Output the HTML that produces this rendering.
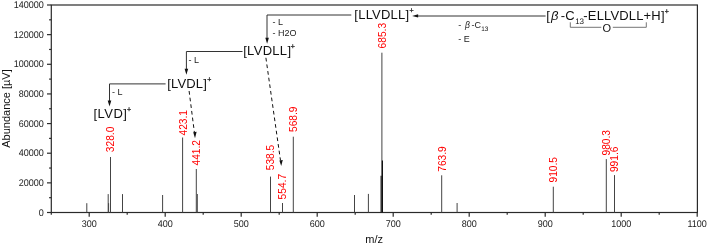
<!DOCTYPE html>
<html><head><meta charset="utf-8"><style>
html,body{margin:0;padding:0;background:#fff;}
svg{display:block;will-change:transform;}
text{font-family:"Liberation Sans",sans-serif;fill:#1a1a1a;}
.tk{font-size:9px;fill:#222;}
.ti{font-size:11px;fill:#111;}
.rd{font-size:10.2px;fill:#f00;}
.big{font-size:13px;fill:#111;}
.sp{fill:#111;stroke:#111;stroke-width:0.25px;}
.sm{font-size:9px;fill:#222;}
.o{font-size:11px;fill:#111;}
</style></head><body>
<svg width="708" height="245" viewBox="0 0 708 245">
<rect x="51.3" y="5.0" width="646.10" height="207.50" fill="none" stroke="#2a2a2a" stroke-width="1.2"/>
<line x1="47.00" y1="212.50" x2="51.3" y2="212.50" stroke="#2a2a2a" stroke-width="1.2"/>
<text transform="translate(43.7 215.60) scale(0.93 1)" text-anchor="end" class="tk" style="font-size:9.7px;text-rendering:geometricPrecision">0</text>
<line x1="49.10" y1="197.68" x2="51.3" y2="197.68" stroke="#2a2a2a" stroke-width="1.2"/>
<line x1="47.00" y1="182.86" x2="51.3" y2="182.86" stroke="#2a2a2a" stroke-width="1.2"/>
<text transform="translate(43.7 185.96) scale(0.93 1)" text-anchor="end" class="tk" style="font-size:9.7px;text-rendering:geometricPrecision">20000</text>
<line x1="49.10" y1="168.04" x2="51.3" y2="168.04" stroke="#2a2a2a" stroke-width="1.2"/>
<line x1="47.00" y1="153.21" x2="51.3" y2="153.21" stroke="#2a2a2a" stroke-width="1.2"/>
<text transform="translate(43.7 156.31) scale(0.93 1)" text-anchor="end" class="tk" style="font-size:9.7px;text-rendering:geometricPrecision">40000</text>
<line x1="49.10" y1="138.39" x2="51.3" y2="138.39" stroke="#2a2a2a" stroke-width="1.2"/>
<line x1="47.00" y1="123.57" x2="51.3" y2="123.57" stroke="#2a2a2a" stroke-width="1.2"/>
<text transform="translate(43.7 126.67) scale(0.93 1)" text-anchor="end" class="tk" style="font-size:9.7px;text-rendering:geometricPrecision">60000</text>
<line x1="49.10" y1="108.75" x2="51.3" y2="108.75" stroke="#2a2a2a" stroke-width="1.2"/>
<line x1="47.00" y1="93.93" x2="51.3" y2="93.93" stroke="#2a2a2a" stroke-width="1.2"/>
<text transform="translate(43.7 97.03) scale(0.93 1)" text-anchor="end" class="tk" style="font-size:9.7px;text-rendering:geometricPrecision">80000</text>
<line x1="49.10" y1="79.11" x2="51.3" y2="79.11" stroke="#2a2a2a" stroke-width="1.2"/>
<line x1="47.00" y1="64.29" x2="51.3" y2="64.29" stroke="#2a2a2a" stroke-width="1.2"/>
<text transform="translate(43.7 67.39) scale(0.93 1)" text-anchor="end" class="tk" style="font-size:9.7px;text-rendering:geometricPrecision">100000</text>
<line x1="49.10" y1="49.46" x2="51.3" y2="49.46" stroke="#2a2a2a" stroke-width="1.2"/>
<line x1="47.00" y1="34.64" x2="51.3" y2="34.64" stroke="#2a2a2a" stroke-width="1.2"/>
<text transform="translate(43.7 37.74) scale(0.93 1)" text-anchor="end" class="tk" style="font-size:9.7px;text-rendering:geometricPrecision">120000</text>
<line x1="49.10" y1="19.82" x2="51.3" y2="19.82" stroke="#2a2a2a" stroke-width="1.2"/>
<line x1="47.00" y1="5.00" x2="51.3" y2="5.00" stroke="#2a2a2a" stroke-width="1.2"/>
<text transform="translate(43.7 8.10) scale(0.93 1)" text-anchor="end" class="tk" style="font-size:9.7px;text-rendering:geometricPrecision">140000</text>
<line x1="51.3" y1="212.5" x2="51.3" y2="214.70" stroke="#2a2a2a" stroke-width="1.2"/>
<line x1="89.20" y1="212.5" x2="89.20" y2="216.70" stroke="#2a2a2a" stroke-width="1.2"/>
<text transform="translate(89.20 227.2) scale(0.93 1)" text-anchor="middle" class="tk" style="font-size:9.7px;text-rendering:geometricPrecision">300</text>
<line x1="127.20" y1="212.5" x2="127.20" y2="214.70" stroke="#2a2a2a" stroke-width="1.2"/>
<line x1="165.20" y1="212.5" x2="165.20" y2="216.70" stroke="#2a2a2a" stroke-width="1.2"/>
<text transform="translate(165.20 227.2) scale(0.93 1)" text-anchor="middle" class="tk" style="font-size:9.7px;text-rendering:geometricPrecision">400</text>
<line x1="203.20" y1="212.5" x2="203.20" y2="214.70" stroke="#2a2a2a" stroke-width="1.2"/>
<line x1="241.20" y1="212.5" x2="241.20" y2="216.70" stroke="#2a2a2a" stroke-width="1.2"/>
<text transform="translate(241.20 227.2) scale(0.93 1)" text-anchor="middle" class="tk" style="font-size:9.7px;text-rendering:geometricPrecision">500</text>
<line x1="279.20" y1="212.5" x2="279.20" y2="214.70" stroke="#2a2a2a" stroke-width="1.2"/>
<line x1="317.20" y1="212.5" x2="317.20" y2="216.70" stroke="#2a2a2a" stroke-width="1.2"/>
<text transform="translate(317.20 227.2) scale(0.93 1)" text-anchor="middle" class="tk" style="font-size:9.7px;text-rendering:geometricPrecision">600</text>
<line x1="355.20" y1="212.5" x2="355.20" y2="214.70" stroke="#2a2a2a" stroke-width="1.2"/>
<line x1="393.20" y1="212.5" x2="393.20" y2="216.70" stroke="#2a2a2a" stroke-width="1.2"/>
<text transform="translate(393.20 227.2) scale(0.93 1)" text-anchor="middle" class="tk" style="font-size:9.7px;text-rendering:geometricPrecision">700</text>
<line x1="431.20" y1="212.5" x2="431.20" y2="214.70" stroke="#2a2a2a" stroke-width="1.2"/>
<line x1="469.20" y1="212.5" x2="469.20" y2="216.70" stroke="#2a2a2a" stroke-width="1.2"/>
<text transform="translate(469.20 227.2) scale(0.93 1)" text-anchor="middle" class="tk" style="font-size:9.7px;text-rendering:geometricPrecision">800</text>
<line x1="507.20" y1="212.5" x2="507.20" y2="214.70" stroke="#2a2a2a" stroke-width="1.2"/>
<line x1="545.20" y1="212.5" x2="545.20" y2="216.70" stroke="#2a2a2a" stroke-width="1.2"/>
<text transform="translate(545.20 227.2) scale(0.93 1)" text-anchor="middle" class="tk" style="font-size:9.7px;text-rendering:geometricPrecision">900</text>
<line x1="583.20" y1="212.5" x2="583.20" y2="214.70" stroke="#2a2a2a" stroke-width="1.2"/>
<line x1="621.20" y1="212.5" x2="621.20" y2="216.70" stroke="#2a2a2a" stroke-width="1.2"/>
<text transform="translate(621.20 227.2) scale(0.93 1)" text-anchor="middle" class="tk" style="font-size:9.7px;text-rendering:geometricPrecision">1000</text>
<line x1="659.20" y1="212.5" x2="659.20" y2="214.70" stroke="#2a2a2a" stroke-width="1.2"/>
<line x1="697.20" y1="212.5" x2="697.20" y2="216.70" stroke="#2a2a2a" stroke-width="1.2"/>
<text transform="translate(697.20 227.2) scale(0.93 1)" text-anchor="middle" class="tk" style="font-size:9.7px;text-rendering:geometricPrecision">1100</text>
<text x="374.2" y="243.2" text-anchor="middle" class="ti">m/z</text>
<text transform="translate(9.7 108.5) rotate(-90)" text-anchor="middle" class="ti">Abundance [µV]</text>
<line x1="86.8" y1="212.5" x2="86.8" y2="203.2" stroke="#444" stroke-width="1"/>
<line x1="108.2" y1="212.5" x2="108.2" y2="194.1" stroke="#444" stroke-width="1"/>
<line x1="108.6" y1="212.5" x2="108.6" y2="203.2" stroke="#444" stroke-width="1"/>
<line x1="110.5" y1="212.5" x2="110.5" y2="157" stroke="#444" stroke-width="1"/>
<line x1="122.5" y1="212.5" x2="122.5" y2="194.1" stroke="#444" stroke-width="1"/>
<line x1="162.6" y1="212.5" x2="162.6" y2="195" stroke="#444" stroke-width="1"/>
<line x1="182.6" y1="212.5" x2="182.6" y2="137.5" stroke="#444" stroke-width="1"/>
<line x1="196.3" y1="212.5" x2="196.3" y2="169" stroke="#444" stroke-width="1"/>
<line x1="197.3" y1="212.5" x2="197.3" y2="194" stroke="#444" stroke-width="1"/>
<line x1="270.5" y1="212.5" x2="270.5" y2="176.6" stroke="#444" stroke-width="1"/>
<line x1="282.5" y1="212.5" x2="282.5" y2="203" stroke="#444" stroke-width="1"/>
<line x1="293.3" y1="212.5" x2="293.3" y2="136.7" stroke="#444" stroke-width="1"/>
<line x1="354.5" y1="212.5" x2="354.5" y2="195" stroke="#444" stroke-width="1"/>
<line x1="368.4" y1="212.5" x2="368.4" y2="193.9" stroke="#444" stroke-width="1"/>
<line x1="381.9" y1="212.5" x2="381.9" y2="52.7" stroke="#444" stroke-width="1"/>
<line x1="441.7" y1="212.5" x2="441.7" y2="175.3" stroke="#444" stroke-width="1"/>
<line x1="457.1" y1="212.5" x2="457.1" y2="203" stroke="#444" stroke-width="1"/>
<line x1="553.3" y1="212.5" x2="553.3" y2="186.7" stroke="#444" stroke-width="1"/>
<line x1="606.3" y1="212.5" x2="606.3" y2="159.1" stroke="#444" stroke-width="1"/>
<line x1="614.5" y1="212.5" x2="614.5" y2="175.1" stroke="#444" stroke-width="1"/>
<line x1="382.4" y1="212.5" x2="382.4" y2="160.4" stroke="#111" stroke-width="1.2"/>
<line x1="381.1" y1="212.5" x2="381.1" y2="175.8" stroke="#111" stroke-width="1.1"/>
<text transform="translate(114.12 152.19) rotate(-90)" class="rd">328.0</text>
<text transform="translate(186.52 135.53) rotate(-90)" class="rd">423.1</text>
<text transform="translate(200.02 165.53) rotate(-90)" class="rd">441.2</text>
<text transform="translate(274.42 170.21) rotate(-90)" class="rd">538.5</text>
<text transform="translate(285.52 199.41) rotate(-90)" class="rd">554.7</text>
<text transform="translate(297.12 132.01) rotate(-90)" class="rd">568.9</text>
<text transform="translate(386.12 48.42) rotate(-90)" class="rd">685.3</text>
<text transform="translate(445.82 171.72) rotate(-90)" class="rd">763.9</text>
<text transform="translate(557.02 182.48) rotate(-90)" class="rd">910.5</text>
<text transform="translate(609.52 155.48) rotate(-90)" class="rd">980.3</text>
<text transform="translate(617.92 172.08) rotate(-90)" class="rd">991.6</text>
<text x="546.17" y="19.5" class="big">[</text>
<text x="551.00" y="19.5" class="big" font-style="italic">β</text>
<text x="560.82" y="19.5" class="big">-C</text>
<text x="575.15" y="24.3" class="big" style="font-size:8px;text-rendering:geometricPrecision">13</text>
<text x="583.32" y="19.5" class="big" textLength="81.20" lengthAdjust="spacing">-ELLVDLL+H]</text>
<text x="666.8" y="13.83" text-anchor="middle" font-size="7" class="sp">+</text>
<path d="M570.3 22.3 V27.3 H601.3 M612.8 27.3 H646.3 V22.3" fill="none" stroke="#666" stroke-width="0.9"/>
<text x="602.5" y="32.3" class="o">O</text>
<line x1="545.6" y1="16.0" x2="417" y2="16.0" stroke="#333" stroke-width="1"/>
<path d="M412.1 15.9 L418.1 14.3 L418.1 17.5 Z" fill="#111"/>
<text x="458.3" y="28.3" class="sm">-</text>
<text x="465.0" y="28.3" class="sm" font-style="italic" style="font-size:8.6px">β</text>
<text x="471.4" y="28.2" class="sm">-C</text>
<text x="481.2" y="30.9" class="sm" style="font-size:6.4px;text-rendering:geometricPrecision">13</text>
<text x="458.3" y="42" class="sm">- E</text>
<text x="354.37" y="19.4" class="big" textLength="54.75" lengthAdjust="spacing">[LLVDLL]</text>
<text x="411.45" y="13.38" text-anchor="middle" font-size="7" class="sp">+</text>
<path d="M351.3 15.0 H267.0 V38" fill="none" stroke="#333" stroke-width="1"/>
<path d="M265.30 37.80 L268.90 37.80 L267.10 43.80 Z" fill="#111"/>
<text x="272.5" y="24.7" class="sm">- L</text>
<text x="272.5" y="35.9" class="sm">- H2O</text>
<text x="243.17" y="55.2" class="big" textLength="47.85" lengthAdjust="spacing">[LVDLL]</text>
<text x="292.85" y="48.93" text-anchor="middle" font-size="7" class="sp">+</text>
<path d="M242.5 51.5 H186.4 V70" fill="none" stroke="#333" stroke-width="1"/>
<path d="M184.60 68.80 L188.20 68.80 L186.40 74.80 Z" fill="#111"/>
<text x="188.6" y="63.3" class="sm">- L</text>
<text x="167.17" y="88.1" class="big" textLength="39.65" lengthAdjust="spacing">[LVDL]</text>
<text x="209.35" y="81.68" text-anchor="middle" font-size="7" class="sp">+</text>
<path d="M165.6 83.9 H109.5 V101" fill="none" stroke="#333" stroke-width="1"/>
<path d="M107.70 100.60 L111.30 100.60 L109.50 106.60 Z" fill="#111"/>
<text x="112" y="95.1" class="sm">- L</text>
<text x="93.47" y="118.4" class="big" textLength="33.45" lengthAdjust="spacing">[LVD]</text>
<text x="129.0" y="112.48" text-anchor="middle" font-size="7" class="sp">+</text>
<line x1="189.1" y1="91" x2="194.4" y2="132.5" stroke="#111" stroke-width="1" stroke-dasharray="3.7 3"/>
<path d="M193.2 132.2 L196.6 131.8 L195.0 138.2 Z" fill="#111"/>
<line x1="265.9" y1="57.8" x2="280.5" y2="160.5" stroke="#111" stroke-width="1" stroke-dasharray="3.7 3"/>
<path d="M279.4 160.4 L282.8 160.0 L281.2 165.9 Z" fill="#111"/>
</svg>
</body></html>
